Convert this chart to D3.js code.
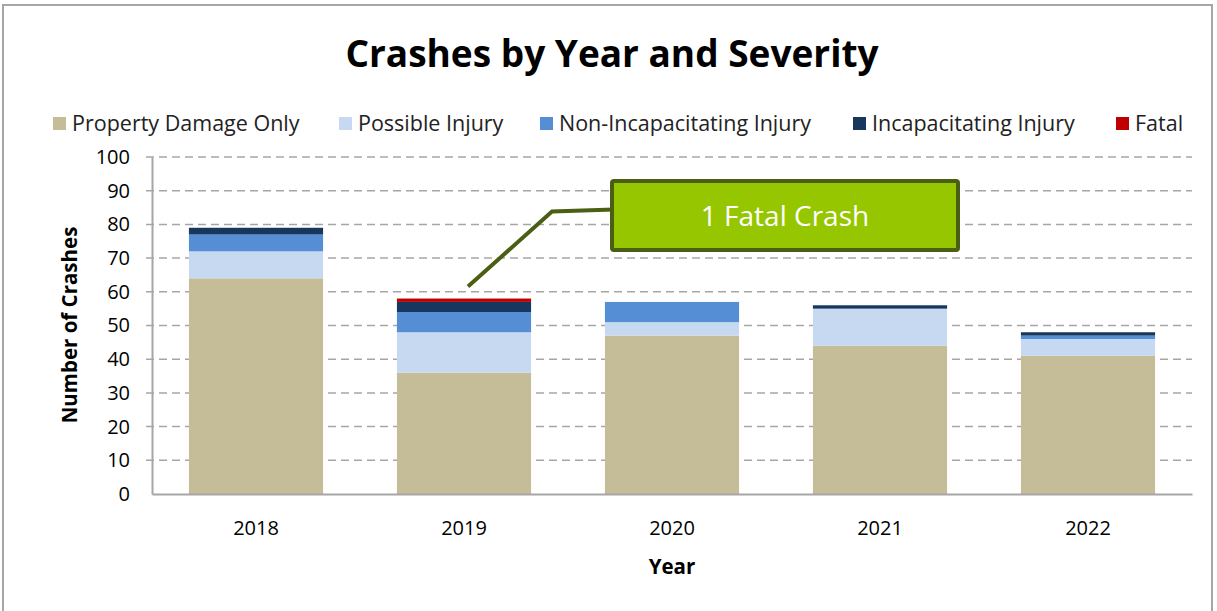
<!DOCTYPE html>
<html>
<head>
<meta charset="utf-8">
<script src="https://cdn.jsdelivr.net/npm/d3@7"></script>
<style>
  body { margin: 0; background: #fff; }
  svg { display: block; font-family: "Open Sans", sans-serif; }
</style>
</head>
<body>
<svg id="chart" width="1217" height="611"></svg>
<script>
// crash counts by year
var years = ["2018", "2019", "2020", "2021", "2022"];
var severities = ["Property Damage Only", "Possible Injury", "Non-Incapacitating Injury", "Incapacitating Injury", "Fatal"];
var propertyDamage = [64, 36, 47, 44, 41];
var possibleInjury = [8, 12, 4, 11, 5];
var nonIncapacitating = [5, 6, 6, 0, 1];
var incapacitating = [2, 3, 0, 1, 1];
var fatal = [0, 1, 0, 0, 0];
var yTicks = [0, 10, 20, 30, 40, 50, 60, 70, 80, 90, 100];
var colors = ["#c4bd97", "#c6d9f1", "#558ed5", "#17375e", "#c00000"];

var svg = d3.select("#chart");
var margin = {left: 152, right: 1192, top: 157, bottom: 494};

// outer frame
svg.append("rect")
    .attr("x", 3).attr("y", 5).attr("width", 1209).attr("height", 620)
    .attr("fill", "none").attr("stroke", "#a6a6a6").attr("stroke-width", 2);

svg.append("text")
    .attr("x", 612).attr("y", 67)
    .attr("text-anchor", "middle")
    .attr("font-size", 37).attr("font-weight", "bold")
    .text("Crashes by Year and Severity");

var x = d3.scaleBand().domain(years)
    .range([margin.left, margin.right])
    .paddingInner(0.355).paddingOuter(0.1775);
var y = d3.scaleLinear().domain([0, 100]).range([margin.bottom, margin.top]);

// table for the stack
var table = years.map(function(yr, i) {
    var row = {year: yr};
    row[severities[0]] = propertyDamage[i];
    row[severities[1]] = possibleInjury[i];
    row[severities[2]] = nonIncapacitating[i];
    row[severities[3]] = incapacitating[i];
    row[severities[4]] = fatal[i];
    return row;
});
var stacked = d3.stack().keys(severities)(table);

// gridlines
svg.append("g").selectAll("line")
    .data(yTicks.filter(function(t) { return t > 0; }))
    .enter().append("line")
    .attr("x1", margin.left - 6).attr("x2", margin.right)
    .attr("y1", function(d) { return y(d); }).attr("y2", function(d) { return y(d); })
    .attr("stroke", "#a6a6a6").attr("stroke-width", 1.5)
    .attr("stroke-dasharray", "8,5");

// bars
svg.append("g").selectAll("g")
    .data(stacked)
    .enter().append("g")
    .attr("fill", function(d, i) { return colors[i]; })
    .selectAll("rect")
    .data(function(d) { return d; })
    .enter().append("rect")
    .attr("x", function(d) { return x(d.data.year); })
    .attr("width", x.bandwidth())
    .attr("y", function(d) { return y(d[1]); })
    .attr("height", function(d) { return y(d[0]) - y(d[1]); });

// axes
var yAxis = svg.append("g")
    .attr("transform", "translate(" + margin.left + ",0)")
    .call(d3.axisLeft(y).tickValues(yTicks).tickSize(0).tickPadding(22));
yAxis.select(".domain").attr("stroke", "#a6a6a6").attr("stroke-width", 2);
yAxis.selectAll("text").attr("font-size", 20).attr("fill", "#000")
    .attr("font-family", "'Open Sans', sans-serif");

var xAxis = svg.append("g")
    .attr("transform", "translate(0," + margin.bottom + ")")
    .call(d3.axisBottom(x).tickSize(0).tickPadding(27));
xAxis.select(".domain").attr("stroke", "#a6a6a6").attr("stroke-width", 2);
xAxis.selectAll("text").attr("font-size", 20).attr("fill", "#000")
    .attr("font-family", "'Open Sans', sans-serif");

svg.append("text")
    .attr("transform", "translate(77,325) rotate(-90)")
    .attr("text-anchor", "middle")
    .attr("font-size", 20.5).attr("font-weight", "bold")
    .text("Number of Crashes");

svg.append("text")
    .attr("x", (margin.left + margin.right) / 2).attr("y", 574)
    .attr("text-anchor", "middle")
    .attr("font-size", 20.5).attr("font-weight", "bold")
    .text("Year");

// legend
var legendX = [53, 339, 540, 853, 1116];
var legend = svg.append("g").selectAll("g")
    .data(severities)
    .enter().append("g")
    .attr("transform", function(d, i) { return "translate(" + legendX[i] + ",124)"; });
legend.append("rect")
    .attr("x", 0).attr("y", -7).attr("width", 13).attr("height", 13)
    .attr("fill", function(d, i) { return colors[i]; });
legend.append("text")
    .attr("x", 19).attr("y", 7)
    .attr("font-size", 21.5).attr("fill", "#222")
    .text(function(d) { return d; });

// callout for the fatal crash
var xc = x("2019") + x.bandwidth() / 2;
var top2019 = propertyDamage[1] + possibleInjury[1] + nonIncapacitating[1] + incapacitating[1] + fatal[1];
var anchorY = y(top2019) - 12;
svg.append("path")
    .attr("d", "M" + (xc + 4) + "," + anchorY + "L" + (xc + 88) + "," + (anchorY - 75) + "L" + (xc + 150) + "," + (anchorY - 77))
    .attr("fill", "none").attr("stroke", "#4a5e14").attr("stroke-width", 4);
svg.append("rect")
    .attr("x", xc + 148).attr("y", 181).attr("width", 346).attr("height", 69)
    .attr("fill", "#95c600").attr("stroke", "#4a5e14").attr("stroke-width", 4)
    .attr("rx", 2);
svg.append("text")
    .attr("x", xc + 321).attr("y", 226)
    .attr("text-anchor", "middle")
    .attr("font-size", 28).attr("fill", "#fff")
    .text("1 Fatal Crash");
</script>
</body>
</html>
